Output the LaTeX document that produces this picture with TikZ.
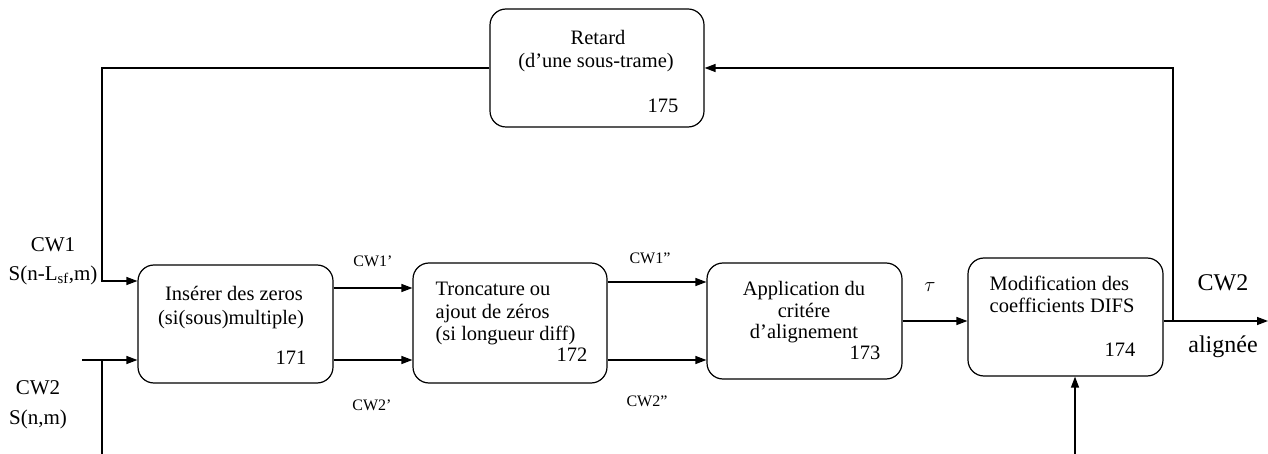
\documentclass[tikz,border=0pt]{standalone}
\usepackage{fontspec}
\setmainfont{Liberation Serif}
\usetikzlibrary{arrows.meta}
\newcommand{\taille}[1]{\fontsize{#1}{#1}\selectfont}

\begin{document}
\begin{tikzpicture}[x=1pt, y={(0pt,-1pt)}, line width=1.3pt,
    bloc/.style={draw, rounded corners=16pt, line width=1.2pt},
    fleche/.style={-{Triangle[length=11pt,width=8pt]}},
    texte/.style={inner sep=0pt, font=\taille{20.5}, align=center},
    petit/.style={inner sep=0pt, font=\taille{16}},
    grand/.style={inner sep=0pt, font=\taille{24}}]
  \useasboundingbox (0,0) rectangle (1268,454);
  \tikzset{every node/.style={text depth=0pt}}

  \node[bloc, minimum width=195pt, minimum height=118pt] (B-171) at (235.5,324) {};
  \node[bloc, minimum width=194pt, minimum height=120pt] (B-172) at (510,323) {};
  \node[bloc, minimum width=195pt, minimum height=116pt] (B-173) at (804.5,321) {};
  \node[bloc, minimum width=195pt, minimum height=118pt] (B-174) at (1065.5,317) {};
  \node[bloc, minimum width=214pt, minimum height=118pt] (B-175) at (597,68) {};

  \node[texte] (T-175-1) at (598,37) {Retard};
  \node[texte] (T-175-2) at (596,60) {(d'une sous-trame)};
  \node[texte] (N-175) at (663,106) {175};

  \node[texte] (T-171-1) at (234,293) {Insérer des zeros};
  \node[texte] (T-171-2) at (231,317) {(si(sous)multiple)};
  \node[texte] (N-171) at (291,358) {171};

  \node[texte, anchor=west] (T-172-1) at (435,289) {Troncature ou};
  \node[texte, anchor=west] (T-172-2) at (435,311) {ajout de zéros};
  \node[texte, anchor=west] (T-172-3) at (435,333) {(si longueur diff)};
  \node[texte] (N-172) at (572,355) {172};

  \node[texte] (T-173-1) at (804,288) {Application du};
  \node[texte] (T-173-2) at (804,310) {critére};
  \node[texte] (T-173-3) at (804,331) {d'alignement};
  \node[texte] (N-173) at (865,353) {173};

  \node[texte, anchor=west] (T-174-1) at (989,283) {Modification des};
  \node[texte, anchor=west] (T-174-2) at (989,305) {coefficients DIFS};
  \node[texte] (N-174) at (1120,350) {174};

  \node[texte, font=\taille{21}] (CW1-e) at (53,245) {CW1};
  \node[texte, font=\taille{21}] (S-1) at (53,273) {S(n-L$_{\mathrm{sf}}$,m)};
  \node[texte, font=\taille{21}] (CW2-e) at (38,388) {CW2};
  \node[texte, font=\taille{21}] (S-2) at (38,417) {S(n,m)};

  \node[petit] (CW1-1) at (373,261) {CW1'};
  \node[petit] (CW2-1) at (372,405) {CW2'};
  \node[petit] (CW1-2) at (650,258) {CW1''};
  \node[petit] (CW2-2) at (647,401) {CW2''};
  \node[texte, font=\taille{22}] (tau) at (930,287) {$\tau$};
  \node[grand] (CW2-s) at (1223,283) {CW2};
  \node[grand] (align) at (1223,344) {alignée};

  \coordinate (coin) at (102,281);
  \coordinate (entree2) at (82,360);
  \coordinate (bas) at (102,454);
  \coordinate (noeud) at (1173,321);
  \coordinate (sortie) at (1268,321);
  \coordinate (bas-174) at (1075,454);

  \draw[fleche] (B-175.west) -| (coin) -- (coin -| B-171.west);
  \draw[fleche] (entree2) -- (entree2 -| B-171.west);
  \draw (entree2 -| coin) -- (bas);
  \draw[fleche] ([yshift=36pt]B-171.east) -- ([yshift=36pt]B-171.east -| B-172.west);
  \draw[fleche] ([yshift=-36pt]B-171.east) -- ([yshift=-36pt]B-171.east -| B-172.west);
  \draw[fleche] ([yshift=41pt]B-172.east) -- ([yshift=41pt]B-172.east -| B-173.west);
  \draw[fleche] ([yshift=-37pt]B-172.east) -- ([yshift=-37pt]B-172.east -| B-173.west);
  \draw[fleche] (B-173.east) -- (B-173.east -| B-174.west);
  \draw[fleche] (noeud -| B-174.east) -- (sortie);
  \draw[fleche] (noeud) |- (B-175.east);
  \draw[fleche] (bas-174) -- (bas-174 |- B-174.south);
\end{tikzpicture}
\end{document}
